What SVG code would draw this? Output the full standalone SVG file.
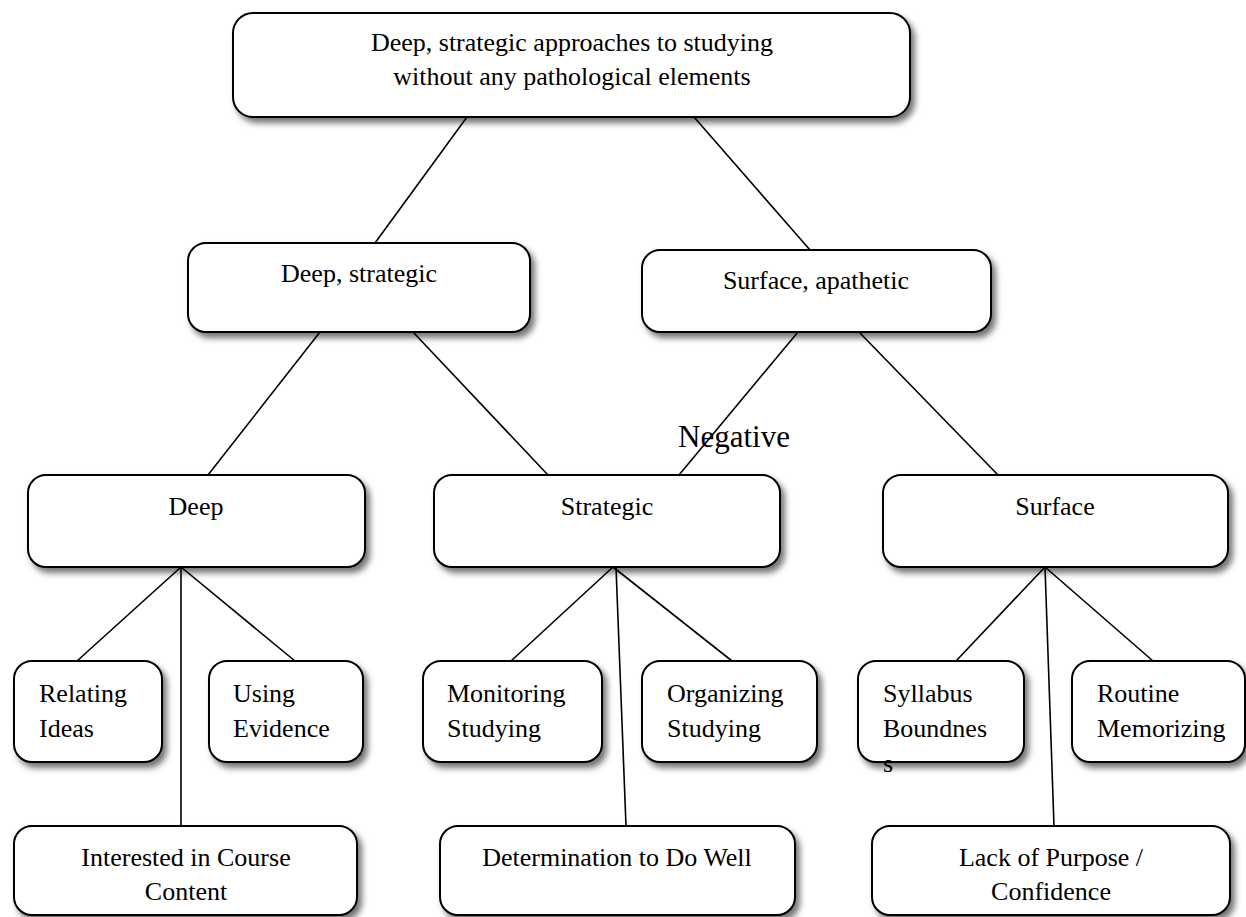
<svg xmlns="http://www.w3.org/2000/svg" width="1246" height="917" viewBox="0 0 1246 917">
  <style>
    .box { fill: #ffffff; stroke: #000000; stroke-width: 2; filter: url(#shadow); }
    .link { stroke: #000000; stroke-width: 1.6; fill: none; }
    .t { font-family: "Liberation Serif", "Times New Roman", serif; font-size: 26px; fill: #000000; }
    .c { text-anchor: middle; }
    .lbl { font-family: "Liberation Serif", "Times New Roman", serif; font-size: 31px; fill: #000000; }
  </style>
  <defs>
    <filter id="shadow" x="-10%" y="-10%" width="125%" height="135%">
      <feDropShadow dx="4" dy="5" stdDeviation="3" flood-color="#000000" flood-opacity="0.55"/>
    </filter>
  </defs>
  <rect width="1246" height="917" fill="#ffffff"/>

  <!-- connectors -->
  <g id="connectors">
    <line class="link" x1="467" y1="117" x2="375" y2="243"/>
    <line class="link" x1="694" y1="117" x2="810" y2="250"/>
    <line class="link" x1="320" y1="332" x2="208" y2="475"/>
    <line class="link" x1="413" y1="332" x2="548" y2="475"/>
    <line class="link" x1="798" y1="332" x2="679" y2="475"/>
    <line class="link" x1="859" y1="332" x2="998" y2="475"/>
    <line class="link" x1="181" y1="567" x2="77" y2="661"/>
    <line class="link" x1="181" y1="567" x2="295" y2="661"/>
    <line class="link" x1="181" y1="567" x2="181" y2="826"/>
    <line class="link" x1="613" y1="567" x2="511" y2="661"/>
    <line class="link" x1="613" y1="567" x2="732" y2="661"/>
    <line class="link" x1="616" y1="567" x2="626" y2="826"/>
    <line class="link" x1="1045" y1="567" x2="956" y2="661"/>
    <line class="link" x1="1045" y1="567" x2="1153" y2="661"/>
    <line class="link" x1="1045" y1="567" x2="1054" y2="826"/>
    <text class="lbl" x="678" y="447">Negative</text>
  </g>

  <!-- level 1 -->
  <g id="root">
    <rect class="box" x="233" y="13" width="677" height="104" rx="20"/>
    <text class="t c" x="572" y="51">Deep, strategic approaches to studying</text>
    <text class="t c" x="572" y="85">without any pathological elements</text>
  </g>

  <!-- level 2 -->
  <g id="deep-strategic">
    <rect class="box" x="188" y="243" width="342" height="89" rx="18"/>
    <text class="t c" x="359" y="282">Deep, strategic</text>
  </g>
  <g id="surface-apathetic">
    <rect class="box" x="642" y="250" width="349" height="82" rx="18"/>
    <text class="t c" x="816" y="289">Surface, apathetic</text>
  </g>

  <!-- level 3 -->
  <g id="deep">
    <rect class="box" x="28" y="475" width="337" height="92" rx="18"/>
    <text class="t c" x="196" y="515">Deep</text>
  </g>
  <g id="strategic">
    <rect class="box" x="434" y="475" width="346" height="92" rx="18"/>
    <text class="t c" x="607" y="515">Strategic</text>
  </g>
  <g id="surface">
    <rect class="box" x="883" y="475" width="345" height="92" rx="18"/>
    <text class="t c" x="1055" y="515">Surface</text>
  </g>

  <!-- level 4 -->
  <g id="relating-ideas">
    <rect class="box" x="14" y="661" width="148" height="101" rx="18"/>
    <text class="t" x="39" y="702">Relating</text>
    <text class="t" x="39" y="737">Ideas</text>
  </g>
  <g id="using-evidence">
    <rect class="box" x="209" y="661" width="154" height="101" rx="18"/>
    <text class="t" x="233" y="702">Using</text>
    <text class="t" x="233" y="737">Evidence</text>
  </g>
  <g id="monitoring-studying">
    <rect class="box" x="423" y="661" width="179" height="101" rx="18"/>
    <text class="t" x="447" y="702">Monitoring</text>
    <text class="t" x="447" y="737">Studying</text>
  </g>
  <g id="organizing-studying">
    <rect class="box" x="642" y="661" width="175" height="101" rx="18"/>
    <text class="t" x="667" y="702">Organizing</text>
    <text class="t" x="667" y="737">Studying</text>
  </g>
  <g id="syllabus-boundness">
    <rect class="box" x="858" y="661" width="166" height="101" rx="18"/>
    <text class="t" x="883" y="702">Syllabus</text>
    <text class="t" x="883" y="737">Boundnes</text>
    <text class="t" x="883" y="772">s</text>
  </g>
  <g id="routine-memorizing">
    <rect class="box" x="1072" y="661" width="173" height="101" rx="18"/>
    <text class="t" x="1097" y="702">Routine</text>
    <text class="t" x="1097" y="737">Memorizing</text>
  </g>

  <!-- level 5 -->
  <g id="interested">
    <rect class="box" x="14" y="826" width="343" height="89" rx="18"/>
    <text class="t c" x="186" y="866">Interested in Course</text>
    <text class="t c" x="186" y="900">Content</text>
  </g>
  <g id="determination">
    <rect class="box" x="440" y="826" width="355" height="89" rx="18"/>
    <text class="t c" x="617" y="866">Determination to Do Well</text>
  </g>
  <g id="lack-of-purpose">
    <rect class="box" x="872" y="826" width="358" height="89" rx="18"/>
    <text class="t c" x="1051" y="866">Lack of Purpose /</text>
    <text class="t c" x="1051" y="900">Confidence</text>
  </g>
</svg>
